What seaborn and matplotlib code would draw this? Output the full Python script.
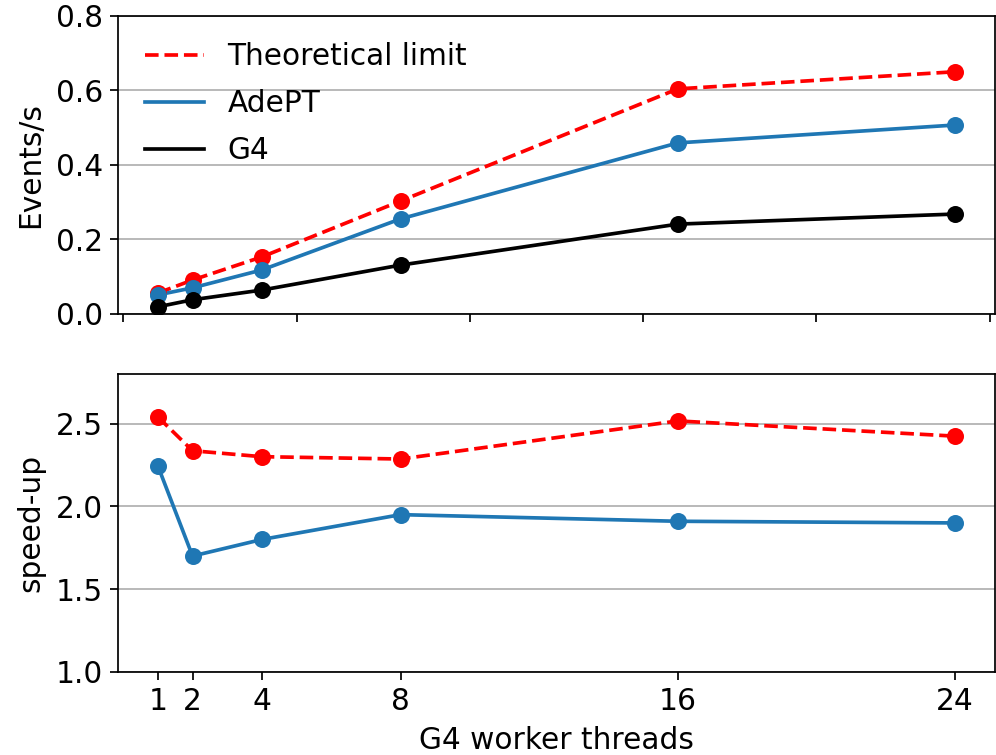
import matplotlib
matplotlib.use("Agg")
import matplotlib.pyplot as plt
import seaborn as sns

# worker thread counts on the x axis
threads = [1, 2, 4, 8, 16, 24]

# throughput (events per second)
limit_rate = [0.056, 0.091, 0.153, 0.303, 0.604, 0.650]
adept_rate = [0.051, 0.070, 0.118, 0.255, 0.459, 0.507]
g4_rate = [0.019, 0.038, 0.064, 0.131, 0.241, 0.268]

# speed-up relative to G4
limit_speedup = [2.54, 2.336, 2.30, 2.286, 2.516, 2.424]
adept_speedup = [2.244, 1.70, 1.80, 1.95, 1.91, 1.90]

# scale factor so default matplotlib sizes fit the bigger canvas
s = 1.556
plt.rcParams.update({
    "font.size": 21.3,
    "lines.linewidth": 1.7 * s,
    "axes.linewidth": 0.8 * s,
    "xtick.major.size": 3.5 * s,
    "ytick.major.size": 3.5 * s,
    "xtick.major.width": 0.8 * s,
    "ytick.major.width": 0.8 * s,
    "xtick.major.pad": 3.5 * s,
    "ytick.major.pad": 3.5 * s,
    "grid.linewidth": 0.8 * s,
    "axes.labelpad": 7.5,
})


def draw(ax, y, color, style, label=None):
    """line plus separate markers, so the legend only shows the line"""
    sns.lineplot(x=threads, y=y, ax=ax, color=color, linestyle=style,
                 label=label, zorder=2)
    sns.scatterplot(x=threads, y=y, ax=ax, color=color, s=150,
                    linewidth=0, zorder=3, legend=False)


fig, (ax1, ax2) = plt.subplots(2, 1, figsize=(9.96, 7.55), dpi=100)
fig.subplots_adjust(left=0.1185, right=0.999, top=0.979, bottom=0.110,
                    hspace=0.2013)

# top panel: absolute throughput
draw(ax1, limit_rate, "red", "--", "Theoretical limit")
draw(ax1, adept_rate, "#1f77b4", "-", "AdePT")
draw(ax1, g4_rate, "black", "-", "G4")
ax1.set_ylim(0, 0.8)
ax1.set_xlim(-0.15, 25.15)
ax1.set_xticks([0, 5, 10, 15, 20, 25])
ax1.tick_params(labelbottom=False)
ax1.set_ylabel("Events/s")
ax1.grid(axis="y", color="#b0b0b0")
ax1.set_axisbelow(True)
ax1.legend(loc="upper left", frameon=False, handlelength=2.0,
           labelspacing=0.6)

# bottom panel: speed-up
draw(ax2, limit_speedup, "red", "--")
draw(ax2, adept_speedup, "#1f77b4", "-")
if ax2.get_legend() is not None:
    ax2.get_legend().remove()
ax2.set_ylim(1.0, 2.8)
ax2.set_yticks([1.0, 1.5, 2.0, 2.5])
ax2.set_xlim(-0.15, 25.15)
ax2.set_xticks(threads)
ax2.set_xlabel("G4 worker threads")
ax2.set_ylabel("speed-up")
ax2.grid(axis="y", color="#b0b0b0")
ax2.set_axisbelow(True)

fig.savefig("out.png", dpi=100)
